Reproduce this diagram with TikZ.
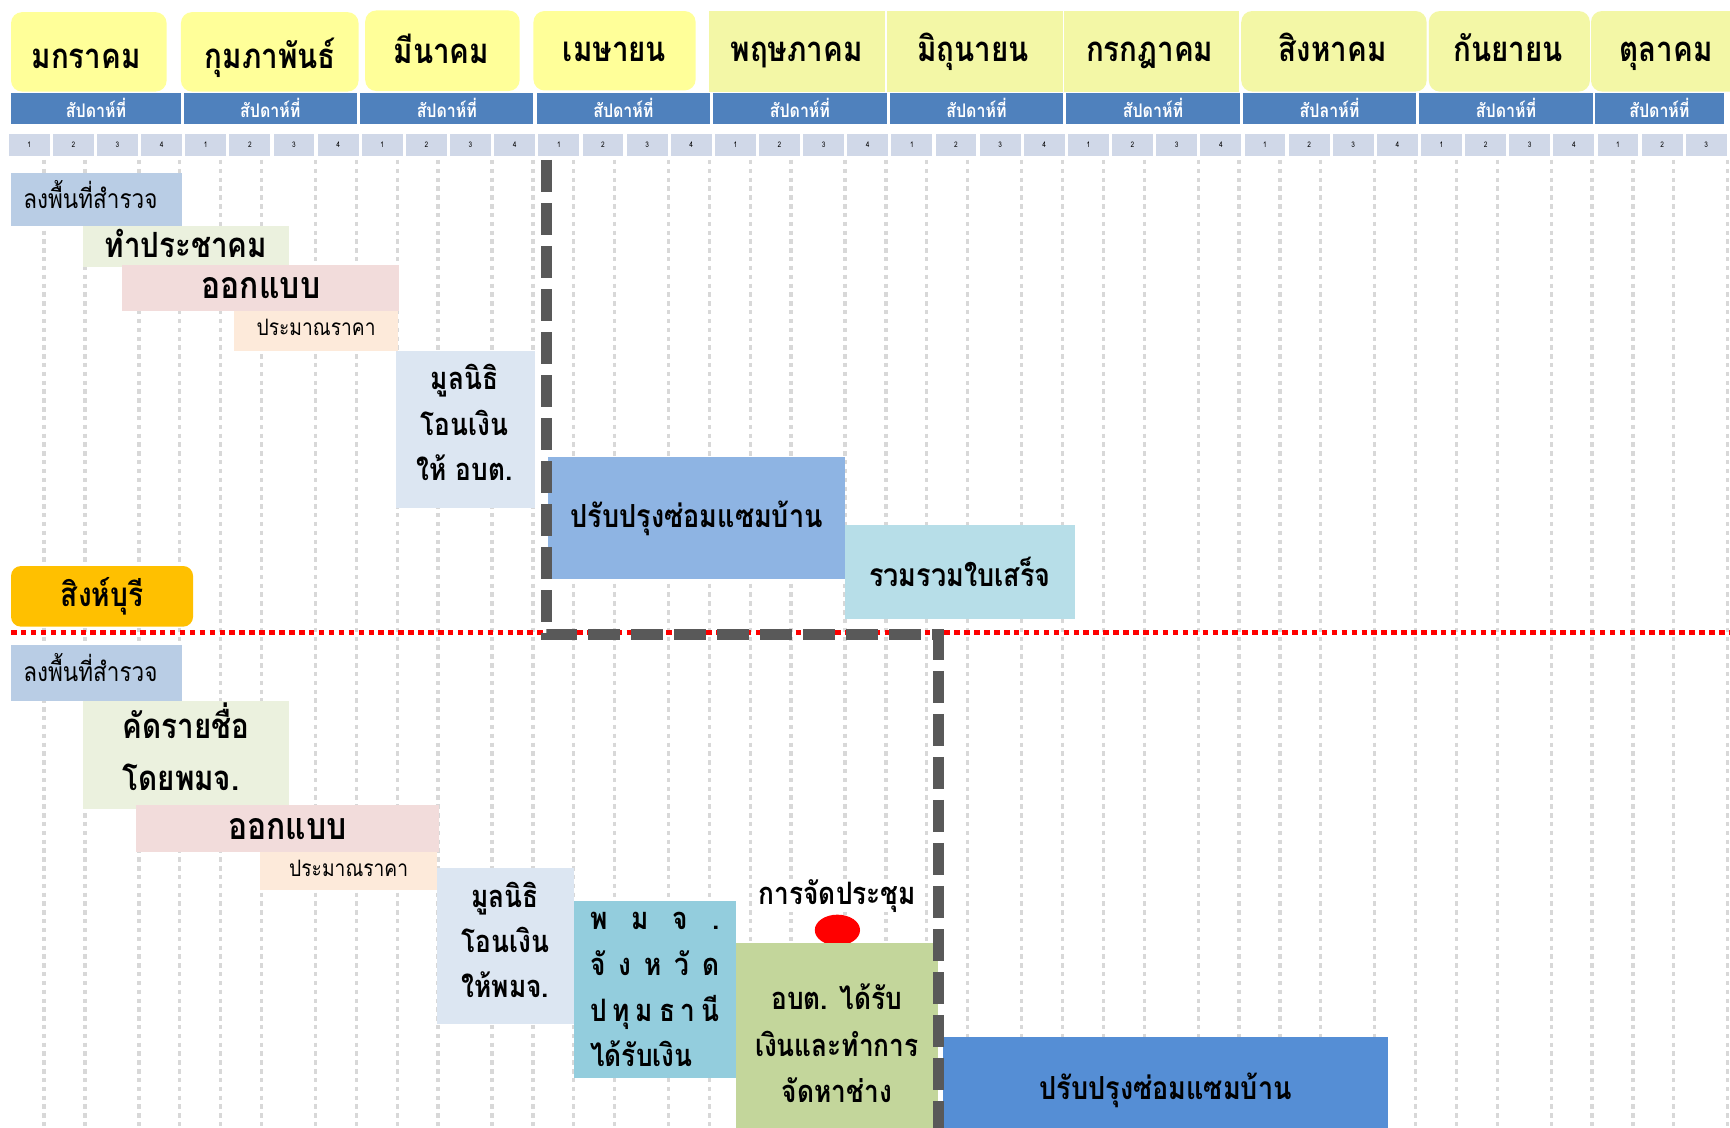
\documentclass[tikz,border=0pt]{standalone}
\usepackage{fontspec}
\usetikzlibrary{shapes.geometric}
\setmainfont{Loma}[Script=Thai, FakeStretch=0.85]
\newcommand\fsz[2]{\fontsize{#1pt}{#2pt}\selectfont}
\definecolor{cYel}{HTML}{FFFF99}
\definecolor{cLime}{HTML}{F3F7A6}
\definecolor{cBar}{HTML}{4F81BD}
\definecolor{cWeek}{HTML}{D0D8E8}
\definecolor{cGrid}{HTML}{D8D8D8}
\definecolor{cSurvey}{HTML}{B9CDE5}
\definecolor{cGreen}{HTML}{EBF1DE}
\definecolor{cPink}{HTML}{F2DCDB}
\definecolor{cPeach}{HTML}{FDEADA}
\definecolor{cFund}{HTML}{DCE6F2}
\definecolor{cRepair}{HTML}{8EB4E3}
\definecolor{cRepairB}{HTML}{558ED5}
\definecolor{cReceipt}{HTML}{B7DEE8}
\definecolor{cOrange}{HTML}{FFC000}
\definecolor{cTeal}{HTML}{93CDDD}
\definecolor{cOlive}{HTML}{C3D69B}
\definecolor{cDash}{HTML}{595959}
\tikzset{
  bx/.style={inner sep=0pt, outer sep=0pt, align=center, text=black},
  txt/.style={inner sep=0pt, outer sep=0pt, align=center, text=black},
  mbox/.style={bx, minimum height=73pt},
  mtxt/.style={txt, anchor=base, font=\bfseries\fsz{31.5}{34}},
  gridline/.style={draw=cGrid, line width=3pt, dash pattern=on 4pt off 4pt},
  wkbar/.style={bx, fill=cBar, text=white, font=\bfseries\fsz{17}{19}, minimum height=28pt},
  wkcell/.style={bx, fill=cWeek, font=\fsz{7}{8}, minimum width=37pt, minimum height=20pt},
}
\begin{document}
\begin{tikzpicture}[x=1pt,y=-1pt]
\useasboundingbox (0,0) rectangle (1568,1022);
\fill[white] (0,0) rectangle (1568,1022);
\begin{scope}
\clip (0,0) rectangle (1568,1022);
% grid
\foreach \m in {0,...,9}{
  \foreach \o in {35,72,121,158}{
    \draw[gridline] ({5+160*\m+\o},145) -- ({5+160*\m+\o},1030);
  }
}
% month headers
\node[mbox, fill=cYel, rounded corners=10pt, minimum width=141pt, minimum height=72pt] (mJan) at (80.5,47) {};
\node[mbox, fill=cYel, rounded corners=10pt, minimum width=161pt, minimum height=72pt] (mFeb) at (244.5,47) {};
\node[mbox, fill=cYel, rounded corners=10pt, minimum width=140pt] (mMar) at (401,46) {};
\node[mbox, fill=cYel, rounded corners=10pt, minimum width=147pt, minimum height=72pt] (mApr) at (557,46) {};
\node[mbox, fill=cLime, minimum width=159pt] (mMay) at (722.5,46.5) {};
\node[mbox, fill=cLime, minimum width=159pt] (mJun) at (883.5,46.5) {};
\node[mbox, fill=cLime, minimum width=159pt] (mJul) at (1043.5,46.5) {};
\node[mbox, fill=cLime, rounded corners=10pt, minimum width=168pt] (mAug) at (1209,46.5) {};
\node[mbox, fill=cLime, rounded corners=10pt, minimum width=146pt] (mSep) at (1368,46.5) {};
\node[mbox, fill=cLime, rounded corners=10pt, minimum width=140pt] (mOct) at (1512,46.5) {};
\node[mtxt] (tJan) at (78,62) {มกราคม};
\node[mtxt] (tFeb) at (245,62) {กุมภาพันธ์};
\node[mtxt] (tMar) at (400,58) {มีนาคม};
\node[mtxt] (tApr) at (557,56) {เมษายน};
\node[mtxt] (tMay) at (722,56) {พฤษภาคม};
\node[mtxt] (tJun) at (882,56) {มิถุนายน};
\node[mtxt] (tJul) at (1042,56) {กรกฎาคม};
\node[mtxt] (tAug) at (1208,56) {สิงหาคม};
\node[mtxt] (tSep) at (1367,56) {กันยายน};
\node[mtxt] (tOct) at (1510,56) {ตุลาคม};
% week bar
\node[wkbar, minimum width=154pt] (bar0) at (87,98) {สัปดาห์ที่};
\foreach \m in {1,2,3,4,5,6,8}{
  \node[wkbar, minimum width=157pt] (bar\m) at ({5+160*\m+80},98) {สัปดาห์ที่};
}
\node[wkbar, minimum width=157pt] (bar7) at (1205,98) {สัปลาห์ที่};
\node[wkbar, minimum width=117pt] (bar9) at (1504,98) {สัปดาห์ที่};
% week cells
\foreach \m in {0,...,8}{
  \foreach \w in {1,...,4}{
    \node[wkcell] (wk-\m-\w) at ({5+160*\m+40*(\w-1)+21.5},131) {\w};
  }
}
\foreach \w in {1,2,3}{
  \node[wkcell] (wk-9-\w) at ({5+160*9+40*(\w-1)+21.5},131) {\w};
}
% upper section (Sing Buri)
\node[bx, fill=cSurvey, minimum width=155pt, minimum height=48pt] (u1) at (87.5,181) {};
\node[txt, font=\fsz{24}{26}] (u1t) at (82,176) {ลงพื้นที่สำรวจ};
\node[bx, fill=cGreen, minimum width=187pt, minimum height=37pt] (u2) at (168.5,223.5) {};
\node[txt, font=\bfseries\fsz{31.5}{34}] (u2t) at (168.5,220.5) {ทำประชาคม};
\node[bx, fill=cPink, minimum width=251pt, minimum height=42pt, font=\bfseries\fsz{34}{36}] (u3) at (236.5,261) {ออกแบบ};
\node[bx, fill=cPeach, minimum width=149pt, minimum height=36pt] (u4) at (286.5,300) {};
\node[txt, font=\fsz{20.5}{22}] (u4t) at (286.5,297) {ประมาณราคา};
\node[bx, fill=cFund, minimum width=126pt, minimum height=142pt] (u5) at (422,389) {};
\node[txt, font=\bfseries\fsz{28}{41}] (u5t) at (421,383) {มูลนิธิ\\โอนเงิน\\ให้ อบต.};
\node[bx, fill=cRepair, minimum width=269pt, minimum height=111pt, font=\bfseries\fsz{28.8}{30}] (u6) at (631.5,469.5) {ปรับปรุงซ่อมแซมบ้าน};
\node[bx, fill=cReceipt, minimum width=208pt, minimum height=85pt, font=\bfseries\fsz{28.8}{30}] (u7) at (870,518.5) {รวมรวมใบเสร็จ};
\node[bx, fill=cOrange, rounded corners=9pt, minimum width=165pt, minimum height=55pt, font=\bfseries\fsz{30}{32}] (prov) at (92.5,540.5) {สิงห์บุรี};
% red divider
\coordinate (redL) at (10,573);
\coordinate (redR) at (1575,573);
\draw[red, line width=4.5pt, dash pattern=on 5pt off 4pt] (redL) -- (redR);
% lower section
\node[bx, fill=cSurvey, minimum width=155pt, minimum height=50pt] (l1) at (87.5,610) {};
\node[txt, font=\fsz{24}{26}] (l1t) at (82,605) {ลงพื้นที่สำรวจ};
\node[bx, fill=cGreen, minimum width=187pt, minimum height=98pt] (l2) at (168.5,684) {};
\node[txt, align=left, font=\bfseries\fsz{31.5}{47}] (l2t) at (168.5,677) {คัดรายชื่อ\\โดยพมจ.};
\node[bx, fill=cPink, minimum width=275pt, minimum height=42pt, font=\bfseries\fsz{34}{36}] (l3) at (260.5,751) {ออกแบบ};
\node[bx, fill=cPeach, minimum width=160pt, minimum height=35pt] (l4) at (316,789.5) {};
\node[txt, font=\fsz{20.5}{22}] (l4t) at (316,787) {ประมาณราคา};
\node[bx, fill=cFund, minimum width=124pt, minimum height=141pt] (l5) at (458,857.5) {};
\node[txt, font=\bfseries\fsz{28}{41}] (l5t) at (458,852) {มูลนิธิ\\โอนเงิน\\ให้พมจ.};
\node[bx, fill=cTeal, minimum width=147pt, minimum height=160pt, align=left, font=\bfseries\fsz{28}{41.5}] (l6) at (593.5,897) {%
\makebox[117pt][s]{พ\hfill ม\hfill จ\hfill .}\\
\makebox[117pt][s]{จั\hfill ง\hfill ห\hfill วั\hfill ด}\\
\makebox[117pt][s]{ป\hfill ทุ\hfill ม\hfill ธ\hfill า\hfill นี}\\
\makebox[117pt][l]{ได้รับเงิน}};
\node[bx, fill=white, font=\bfseries\fsz{28}{30}] (meet) at (759,812) {การจัดประชุม};
\node[bx, fill=red, ellipse, minimum width=41pt, minimum height=28pt] (dot) at (759,843) {};
\node[bx, fill=cOlive, minimum width=183pt, minimum height=181pt, font=\bfseries\fsz{28}{42}] (l7) at (758.5,945.5) {อบต. ได้รับ\\เงินและทำการ\\จัดหาช่าง};
\node[bx, fill=cRepairB, minimum width=403pt, minimum height=96pt, font=\bfseries\fsz{28.8}{30}] (l8) at (1056.5,988) {ปรับปรุงซ่อมแซมบ้าน};
% thick dashed boundary
\coordinate (dA) at (495,145);
\coordinate (dB) at (495,575);
\coordinate (dC) at (851,575);
\coordinate (dD) at (851,1040);
\draw[cDash, line width=10pt, dash pattern=on 29pt off 10pt] (dA) -- (dB) -- (dC) -- (dD);
\end{scope}
\end{tikzpicture}
\end{document}
